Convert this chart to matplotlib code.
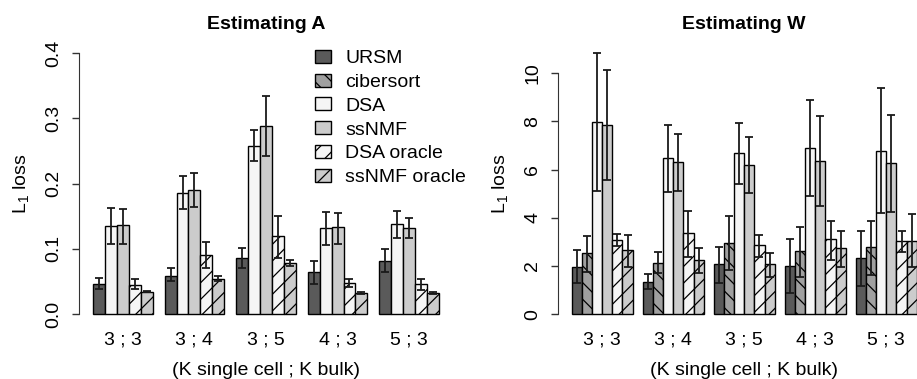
import numpy as np
import matplotlib
matplotlib.use("Agg")
import matplotlib.pyplot as plt
from matplotlib.patches import Patch

plt.rcParams["font.family"] = ["Liberation Sans", "DejaVu Sans"]
plt.rcParams["mathtext.default"] = "regular"
plt.rcParams["hatch.linewidth"] = 0.9

groups = ["3 ; 3", "3 ; 4", "3 ; 5", "4 ; 3", "5 ; 3"]
methods = ["URSM", "cibersort", "DSA", "ssNMF", "DSA oracle", "ssNMF oracle"]

# Estimating A (no cibersort)
a_ursm = [0.046, 0.059, 0.086, 0.064, 0.082]
a_ursm_lo = [0.038, 0.050, 0.071, 0.046, 0.064]
a_ursm_hi = [0.055, 0.070, 0.102, 0.082, 0.099]
a_dsa = [0.135, 0.186, 0.258, 0.132, 0.138]
a_dsa_lo = [0.107, 0.161, 0.234, 0.106, 0.117]
a_dsa_hi = [0.163, 0.211, 0.282, 0.157, 0.158]
a_ssnmf = [0.136, 0.190, 0.289, 0.133, 0.132]
a_ssnmf_lo = [0.108, 0.164, 0.243, 0.107, 0.116]
a_ssnmf_hi = [0.161, 0.216, 0.334, 0.155, 0.147]
a_dsao = [0.045, 0.091, 0.119, 0.047, 0.046]
a_dsao_lo = [0.038, 0.071, 0.086, 0.041, 0.037]
a_dsao_hi = [0.053, 0.111, 0.151, 0.054, 0.053]
a_ssnmfo = [0.034, 0.053, 0.078, 0.032, 0.032]
a_ssnmfo_lo = [0.033, 0.050, 0.073, 0.031, 0.031]
a_ssnmfo_hi = [0.036, 0.058, 0.083, 0.033, 0.033]

# Estimating W
w_ursm = [1.97, 1.35, 2.07, 2.00, 2.32]
w_ursm_lo = [1.28, 1.04, 1.28, 0.87, 1.17]
w_ursm_hi = [2.66, 1.66, 2.80, 3.11, 3.44]
w_cib = [2.53, 2.14, 2.97, 2.62, 2.78]
w_cib_lo = [1.77, 1.70, 1.84, 1.56, 1.63]
w_cib_hi = [3.26, 2.57, 4.09, 3.63, 3.88]
w_dsa = [7.98, 6.46, 6.67, 6.90, 6.77]
w_dsa_lo = [5.12, 5.08, 5.40, 4.92, 4.19]
w_dsa_hi = [10.82, 7.85, 7.92, 8.88, 9.37]
w_ssnmf = [7.84, 6.30, 6.17, 6.35, 6.26]
w_ssnmf_lo = [5.57, 5.12, 5.01, 4.49, 4.25]
w_ssnmf_hi = [10.12, 7.47, 7.33, 8.23, 8.26]
w_dsao = [3.08, 3.36, 2.86, 3.11, 3.05]
w_dsao_lo = [2.83, 2.39, 2.39, 2.25, 2.59]
w_dsao_hi = [3.33, 4.28, 3.30, 3.88, 3.46]
w_ssnmfo = [2.66, 2.25, 2.07, 2.73, 3.05]
w_ssnmfo_lo = [1.97, 1.72, 1.56, 1.97, 1.95]
w_ssnmfo_hi = [3.30, 2.76, 2.53, 3.45, 4.14]

style = {
    "URSM": ("#5a5a5a", None),
    "cibersort": ("#a0a0a0", "\\\\"),
    "DSA": ("#f5f5f5", None),
    "ssNMF": ("#cccccc", None),
    "DSA oracle": ("#f5f5f5", "//"),
    "ssNMF oracle": ("#cccccc", "//"),
}

W, H = 917, 379
fig = plt.figure(figsize=(W / 100, H / 100), dpi=100)


def px_axes(x0, x1, y0, y1):
    return fig.add_axes([x0 / W, 1 - y1 / H, (x1 - x0) / W, (y1 - y0) / H])


def panel(ax, series, title, yticks, ticklabels, ylim, xlim):
    n = len(series)
    for j, (name, mean, lo, hi) in enumerate(series):
        fc, hatch = style[name]
        x = np.array([1 + g * (n + 1) + j + 0.5 for g in range(len(groups))])
        ax.bar(x, mean, width=1.0, color=fc, edgecolor="black", linewidth=1.0,
               hatch=hatch, zorder=2)
        mean = np.array(mean)
        yerr = [mean - np.array(lo), np.array(hi) - mean]
        ax.errorbar(x, mean, yerr=yerr, fmt="none", ecolor="#1a1a1a",
                    elinewidth=1.3, capsize=3, capthick=1.3, zorder=3)
    centers = [1 + g * (n + 1) + n / 2 for g in range(len(groups))]
    ax.set_xticks(centers)
    ax.set_xticklabels(groups, fontsize=14)
    ax.tick_params(axis="x", length=0, pad=5)
    ax.set_xlim(*xlim)
    ax.set_ylim(*ylim)
    ax.set_yticks(yticks)
    ax.set_yticklabels(ticklabels, fontsize=14, rotation=90, va="center")
    ax.tick_params(axis="y", length=5, width=1, pad=7, color="#333333")
    for s in ["top", "right", "bottom"]:
        ax.spines[s].set_visible(False)
    ax.spines["left"].set_bounds(yticks[0], yticks[-1])
    ax.spines["left"].set_color("#333333")
    ax.set_title(title, fontsize=14, fontweight="bold", pad=10)
    ax.set_xlabel("(K single cell ; K bulk)", fontsize=14, labelpad=9.5)
    ax.set_ylabel("L$_1$ loss", fontsize=14, labelpad=10.5)


ax1 = px_axes(79.2, 452.8, 42.9, 324.4)
a_series = [
    ("URSM", a_ursm, a_ursm_lo, a_ursm_hi),
    ("DSA", a_dsa, a_dsa_lo, a_dsa_hi),
    ("ssNMF", a_ssnmf, a_ssnmf_lo, a_ssnmf_hi),
    ("DSA oracle", a_dsao, a_dsao_lo, a_dsao_hi),
    ("ssNMF oracle", a_ssnmfo, a_ssnmfo_lo, a_ssnmfo_hi),
]
panel(ax1, a_series, "Estimating A", [0.0, 0.1, 0.2, 0.3, 0.4],
      ["0.0", "0.1", "0.2", "0.3", "0.4"], (-0.016, 0.416), (-0.16, 31.16))

ax2 = px_axes(557.9, 930.6, 42.9, 324.4)
w_series = [
    ("URSM", w_ursm, w_ursm_lo, w_ursm_hi),
    ("cibersort", w_cib, w_cib_lo, w_cib_hi),
    ("DSA", w_dsa, w_dsa_lo, w_dsa_hi),
    ("ssNMF", w_ssnmf, w_ssnmf_lo, w_ssnmf_hi),
    ("DSA oracle", w_dsao, w_dsao_lo, w_dsao_hi),
    ("ssNMF oracle", w_ssnmfo, w_ssnmfo_lo, w_ssnmfo_hi),
]
panel(ax2, w_series, "Estimating W", [0, 2, 4, 6, 8, 10],
      ["0", "2", "4", "6", "8", "10"], (-0.42, 11.25), (-0.36, 36.36))

handles = [Patch(facecolor=style[m][0], edgecolor="black", hatch=style[m][1],
                 linewidth=1.0) for m in methods]
fig.legend(handles, methods, loc="upper left",
           bbox_to_anchor=(315 / W, 1 - 50 / H), frameon=False, fontsize=14,
           handlelength=0.8, handleheight=0.65, handletextpad=0.75,
           labelspacing=0.33, borderpad=0, borderaxespad=0)

fig.savefig("out.png", dpi=100)
